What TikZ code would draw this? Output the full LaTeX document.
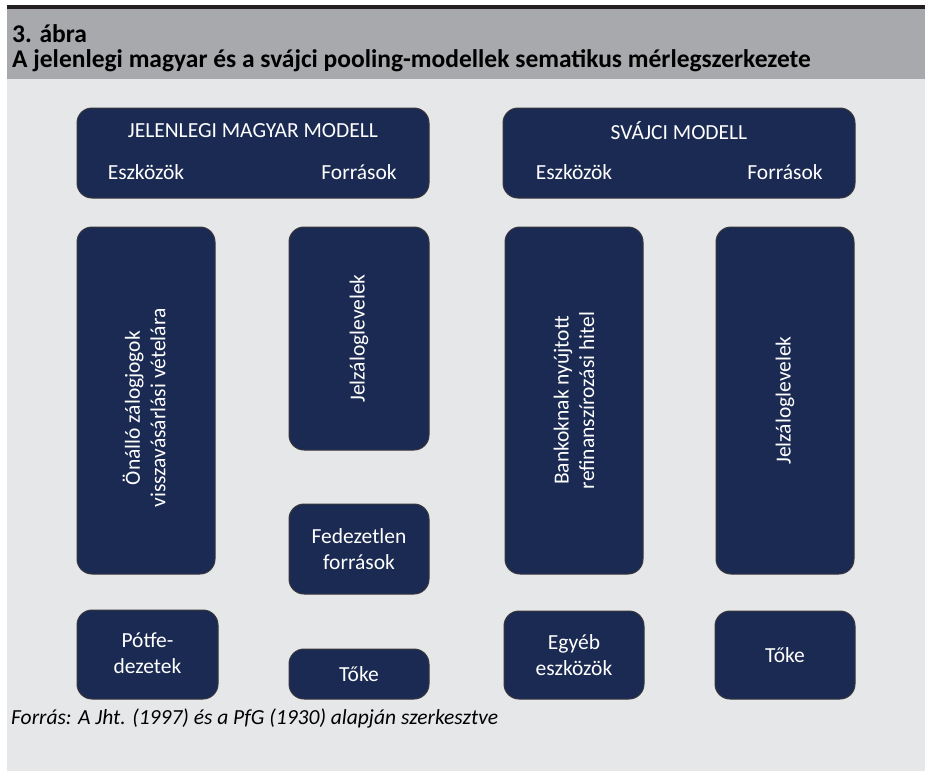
\documentclass[tikz,border=0pt]{standalone}
\usepackage{fontspec}
\setmainfont{Carlito}
\definecolor{navy}{RGB}{27,42,82}
\definecolor{edge}{RGB}{55,55,60}
\definecolor{hdr}{RGB}{167,169,172}
\definecolor{bg}{RGB}{230,231,232}
\definecolor{topline}{RGB}{35,31,32}
\tikzset{
  box/.style={draw=edge, line width=1pt, fill=navy, rounded corners=15pt, inner sep=0pt},
  wtext/.style={text=white, font=\fontsize{21.5}{25.5}\selectfont, align=center, inner sep=0pt},
  vtext/.style={wtext, rotate=90},
}
\begin{document}
\begin{tikzpicture}[x=1pt,y=-1pt]
\useasboundingbox (0,0) rectangle (925,771);
\fill[bg] (7,79) rectangle (925,771);
\fill[hdr] (7,7) rectangle (925,79);
\fill[topline] (7,5) rectangle (925,8.5);
\node[anchor=base west, inner sep=0pt, font=\bfseries\fontsize{25.5}{30}\selectfont] (t1) at (12,42) {3. ábra};
\node[anchor=base west, inner sep=0pt, font=\bfseries\fontsize{25.5}{30}\selectfont] (t2) at (12,67) {A jelenlegi magyar és a svájci pooling-modellek sematikus mérlegszerkezete};
% header boxes
\node[box, minimum width=352pt, minimum height=90pt] (hu) at (253,153) {};
\node[box, minimum width=352pt, minimum height=90pt] (ch) at (679,153) {};
\node[wtext] (hut) at (253,131) {JELENLEGI MAGYAR MODELL};
\node[wtext] (hue) at (146,172) {Eszközök};
\node[wtext] (huf) at (359,172) {Források};
\node[wtext] (cht) at (679,131) {SVÁJCI MODELL};
\node[wtext] (che) at (574,172) {Eszközök};
\node[wtext] (chf) at (785,172) {Források};
% Hungarian model
\node[box, minimum width=138pt, minimum height=347pt] (a1) at (146,400.5) {};
\node[vtext] (a1t) at (144,408) {Önálló zálogjogok\\visszavásárlási vételára};
\node[box, minimum width=140pt, minimum height=223pt] (l1) at (359,338.5) {};
\node[vtext] (l1t) at (l1) {Jelzáloglevelek};
\node[box, minimum width=140pt, minimum height=90pt] (l2) at (359,549) {};
\node[wtext] (l2t) at (l2) {Fedezetlen\\források};
\node[box, minimum width=141pt, minimum height=89pt] (a2) at (147.5,654.5) {};
\node[wtext] (a2t) at (147.5,653) {Pótfe-\\dezetek};
\node[box, minimum width=140pt, minimum height=50pt] (l3) at (359,674) {};
\node[wtext] (l3t) at (l3) {Tőke};
% Swiss model
\node[box, minimum width=138pt, minimum height=347pt] (b1) at (574,400.5) {};
\node[vtext] (b1t) at (b1) {Bankoknak nyújtott\\refinanszírozási hitel};
\node[box, minimum width=138pt, minimum height=347pt] (r1) at (785,400.5) {};
\node[vtext] (r1t) at (r1) {Jelzáloglevelek};
\node[box, minimum width=140pt, minimum height=88pt] (b2) at (574,655) {};
\node[wtext] (b2t) at (b2) {Egyéb\\eszközök};
\node[box, minimum width=140pt, minimum height=88pt] (r2) at (785,655) {};
\node[wtext] (r2t) at (r2) {Tőke};
% footer
\node[anchor=base west, inner sep=0pt, font=\itshape\fontsize{21.5}{25}\selectfont] (src) at (11,724) {Forrás: A Jht. (1997) és a PfG (1930) alapján szerkesztve};
\end{tikzpicture}
\end{document}
